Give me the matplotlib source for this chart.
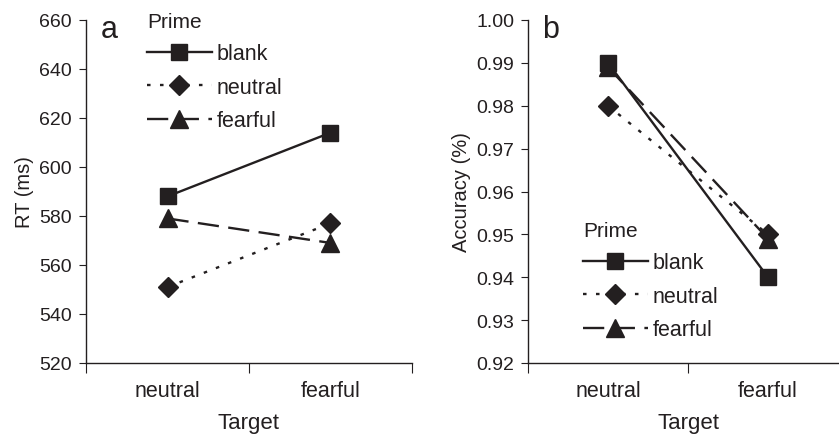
import matplotlib
matplotlib.use("Agg")
import matplotlib.pyplot as plt
from matplotlib.ticker import FixedLocator, NullFormatter, FixedFormatter

plt.rcParams['font.family'] = ['Liberation Sans', 'DejaVu Sans']

targets = ["neutral", "fearful"]
primes = ["blank", "neutral", "fearful"]

rt_blank = [588, 614]
rt_neutral = [551, 577]
rt_fearful = [579, 569]

acc_blank = [0.990, 0.940]
acc_neutral = [0.980, 0.950]
acc_fearful = [0.989, 0.949]

ink = "#231f20"
styles = {
    "blank": dict(linestyle="-", marker="s", markersize=12),
    "neutral": dict(linestyle=(0, (1.5, 4)), marker="D", markersize=10.5),
    "fearful": dict(linestyle=(0, (9, 4)), marker="^", markersize=12.5),
}

fig = plt.figure(figsize=(8.39, 4.35), dpi=100)
ax_a = fig.add_axes([86 / 839, 71 / 435, 326 / 839, 343 / 435])
ax_b = fig.add_axes([528 / 839, 71 / 435, 320 / 839, 343 / 435])


def setup(ax, ylim, yticks, yfmt, ylabel):
    ax.set_xlim(0, 2)
    ax.set_ylim(*ylim)
    for s in ("top", "right"):
        ax.spines[s].set_visible(False)
    for s in ("left", "bottom"):
        ax.spines[s].set_color(ink)
        ax.spines[s].set_linewidth(1.0)
    ax.set_yticks(yticks)
    ax.set_yticklabels([yfmt.format(v) for v in yticks])
    ax.xaxis.set_major_locator(FixedLocator([0, 1, 2]))
    ax.xaxis.set_major_formatter(NullFormatter())
    ax.xaxis.set_minor_locator(FixedLocator([0.5, 1.5]))
    ax.xaxis.set_minor_formatter(FixedFormatter(targets))
    ax.tick_params(axis="x", which="major", direction="out", length=7, color=ink)
    ax.tick_params(axis="x", which="minor", length=0, pad=12, labelsize=15.5, labelcolor=ink)
    ax.tick_params(axis="y", direction="out", length=5, color=ink, labelsize=14, labelcolor=ink, pad=5)
    ax.set_xlabel("Target", fontsize=16, color=ink, labelpad=8)
    ax.set_ylabel(ylabel, fontsize=14.5, color=ink, labelpad=4)


xs = [0.5, 1.5]
for name, vals in zip(primes, [rt_blank, rt_neutral, rt_fearful]):
    ax_a.plot(xs, vals, color=ink, lw=1.7, label=name, clip_on=False, **styles[name])
for name, vals in zip(primes, [acc_blank, acc_neutral, acc_fearful]):
    ax_b.plot(xs, vals, color=ink, lw=1.7, label=name, clip_on=False, **styles[name])

setup(ax_a, (520, 660), list(range(520, 661, 20)), "{:d}", "RT (ms)")
setup(ax_b, (0.92, 1.00), [0.92 + 0.01 * i for i in range(9)], "{:.2f}", "Accuracy (%)")

ax_a.text(0.045, 0.950, "a", transform=ax_a.transAxes, fontsize=22, color=ink, va="baseline")
ax_b.text(0.045, 0.950, "b", transform=ax_b.transAxes, fontsize=22, color=ink, va="baseline")

leg_kw = dict(title="Prime", frameon=False, fontsize=15.5, title_fontsize=15,
              handlelength=3.0, handletextpad=0.25, labelspacing=0.58,
              alignment="left", labelcolor=ink, borderpad=0, borderaxespad=0)
leg_a = ax_a.legend(loc="upper left", bbox_to_anchor=(61 / 326, 1.024), **leg_kw)
leg_b = ax_b.legend(loc="upper left", bbox_to_anchor=(55 / 320, 0.415), **leg_kw)
for leg in (leg_a, leg_b):
    leg.get_title().set_color(ink)

fig.savefig("out.png", dpi=100)
